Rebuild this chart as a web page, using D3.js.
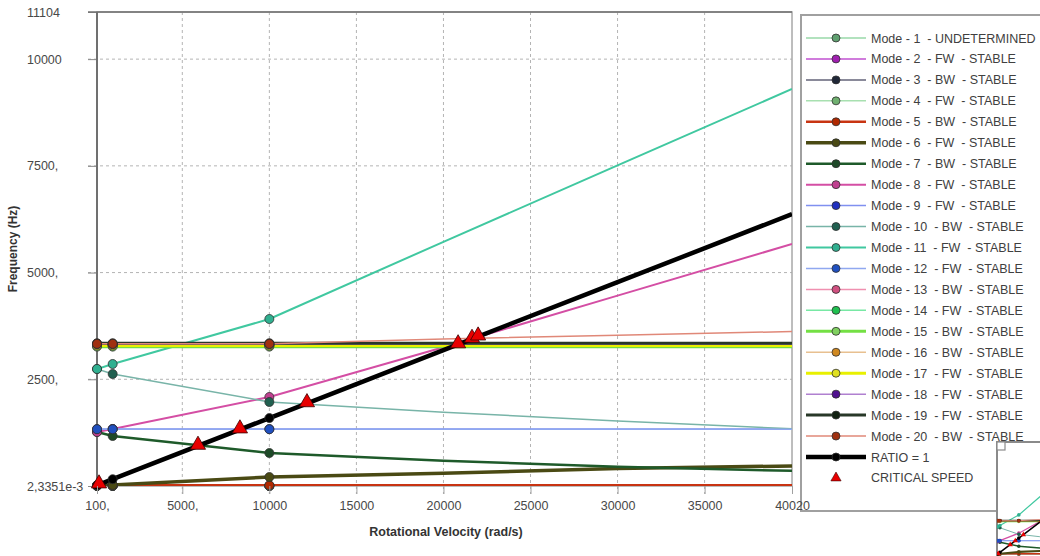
<!DOCTYPE html>
<html>
<head>
<meta charset="utf-8">
<script src="https://cdn.jsdelivr.net/npm/d3@7"></script>
<style>
  body { margin: 0; background: #fff; }
  text { font-family: "Liberation Sans", Arial, sans-serif; }
</style>
</head>
<body>
<div id="chart"></div>
<script>
// Campbell diagram data

// rotational speeds (rad/s) where each mode is sampled
var speeds = [100, 1000, 10000, 20000, 30000, 40020];
// markers are shown for the first samples only
var markedCount = 3;

var modeNames = [
  "Mode - 1  - UNDETERMINED",
  "Mode - 2  - FW  - STABLE",
  "Mode - 3  - BW  - STABLE",
  "Mode - 4  - FW  - STABLE",
  "Mode - 5  - BW  - STABLE",
  "Mode - 6  - FW  - STABLE",
  "Mode - 7  - BW  - STABLE",
  "Mode - 8  - FW  - STABLE",
  "Mode - 9  - FW  - STABLE",
  "Mode - 10  - BW  - STABLE",
  "Mode - 11  - FW  - STABLE",
  "Mode - 12  - FW  - STABLE",
  "Mode - 13  - BW  - STABLE",
  "Mode - 14  - FW  - STABLE",
  "Mode - 15  - BW  - STABLE",
  "Mode - 16  - BW  - STABLE",
  "Mode - 17  - FW  - STABLE",
  "Mode - 18  - FW  - STABLE",
  "Mode - 19  - FW  - STABLE",
  "Mode - 20  - BW  - STABLE"
];

// frequencies (Hz) per mode, one value per speed
var mode1Hz  = [1, 1, 1, 1, 1, 1];
var mode2Hz  = [2, 2, 2, 2, 2, 2];
var mode3Hz  = [3, 3, 3, 3, 3, 3];
var mode4Hz  = [4, 4, 4, 4, 4, 4];
var mode5Hz  = [20, 20, 20, 20, 20, 20];
var mode6Hz  = [5, 25, 210, 300, 410, 470];
var mode7Hz  = [1265, 1171, 773, 590, 450, 355];
var mode8Hz  = [1265, 1335, 2085, 3250, 4460, 5669];
var mode9Hz  = [1335, 1335, 1335, 1335, 1335, 1335];
var mode10Hz = [2741, 2624, 1968, 1730, 1520, 1340];
var mode11Hz = [2741, 2858, 3912, 5720, 7510, 9300];
var mode12Hz = [1330, 1330, 1330, 1330, 1330, 1330];
var mode13Hz = [3318, 3318, 3318, 3318, 3318, 3318];
var mode14Hz = [3305, 3305, 3305, 3305, 3305, 3305];
var mode15Hz = [3265, 3265, 3265, 3265, 3265, 3265];
var mode16Hz = [3325, 3325, 3325, 3325, 3325, 3325];
var mode17Hz = [3290, 3290, 3290, 3290, 3290, 3290];
var mode18Hz = [3320, 3320, 3320, 3320, 3320, 3320];
var mode19Hz = [3345, 3345, 3345, 3345, 3345, 3345];
var mode20Hz = [3330, 3330, 3330, 3445, 3530, 3620];

var modeHz = [mode1Hz, mode2Hz, mode3Hz, mode4Hz, mode5Hz, mode6Hz, mode7Hz,
  mode8Hz, mode9Hz, mode10Hz, mode11Hz, mode12Hz, mode13Hz, mode14Hz,
  mode15Hz, mode16Hz, mode17Hz, mode18Hz, mode19Hz, mode20Hz];

// ratio = 1 line (Hz)
var ratioHz = [15.9, 159.2, 1591.5, 3183.1, 4774.6, 6369.4];

// critical speeds
var criticalSpeed = [215, 5900, 8310, 12160, 20840, 21640, 21990];
var criticalHz = [34, 939, 1323, 1936, 3316, 3444, 3499];

// ticks
var xTickValues = [100, 5000, 10000, 15000, 20000, 25000, 30000, 35000, 40020];
var xTickLabels = ["100,", "5000,", "10000", "15000", "20000", "25000", "30000", "35000", "40020"];
var yTickValues = [0.0023351, 2500, 5000, 7500, 10000, 11104];
var yTickLabels = ["2,3351e-3", "2500,", "5000,", "7500,", "10000", "11104"];

// styles
var lineColors = ["#98d8a8", "#c050d0", "#8a8a9a", "#a8e0b0", "#c83412", "#4a4a14",
  "#1e5a2a", "#d44ea4", "#8090f0", "#78b4a8", "#40c8a0", "#90a8f0", "#f090b0",
  "#78e8a4", "#74e044", "#e8c090", "#e8f000", "#b080d0", "#283828", "#e08878"];
var dotColors = ["#60a070", "#a020b0", "#202838", "#70b070", "#b02800", "#4a4a14",
  "#1e4a28", "#c04090", "#2030c0", "#206050", "#30b090", "#2050c0", "#d05080",
  "#20c050", "#80d060", "#d08820", "#e0e020", "#501090", "#102010", "#a03010"];
var lineWidths = [1.5, 1.5, 2, 1.5, 2.5, 3.5, 2.5, 2, 1.5, 1.5, 2, 1.5, 1.5,
  1.5, 3, 1.5, 3, 1.5, 3, 1.5];

var svgWidth = 1040;
var svgHeight = 556;
var margin = { top: 12, left: 97 };
var chartWidth = 695;
var chartHeight = 474;

var svg = d3.select("#chart")
  .append("svg")
  .attr("width", svgWidth)
  .attr("height", svgHeight);

svg.append("defs").append("clipPath").attr("id", "plotClip")
  .append("rect").attr("width", chartWidth).attr("height", chartHeight);

var chartGroup = svg.append("g")
  .attr("transform", `translate(${margin.left}, ${margin.top})`);

var xScale = d3.scaleLinear().domain([100, 40020]).range([0, chartWidth]);
var yScale = d3.scaleLinear().domain([0.0023351, 11104]).range([chartHeight, 0]);

// grid
chartGroup.append("g")
  .selectAll("line")
  .data(xTickValues.slice(1, -1))
  .enter()
  .append("line")
  .attr("x1", d => xScale(d)).attr("x2", d => xScale(d))
  .attr("y1", 0).attr("y2", chartHeight + 8)
  .attr("stroke", "#b4b4b4").attr("stroke-dasharray", "3,3");

chartGroup.append("g")
  .selectAll("line")
  .data(yTickValues.slice(1, -1))
  .enter()
  .append("line")
  .attr("x1", -9).attr("x2", chartWidth)
  .attr("y1", d => yScale(d)).attr("y2", d => yScale(d))
  .attr("stroke", "#b4b4b4").attr("stroke-dasharray", "3,3");

// axes
var bottomAxis = d3.axisBottom(xScale)
  .tickValues(xTickValues)
  .tickFormat((d, i) => xTickLabels[i])
  .tickSize(8).tickSizeOuter(0).tickPadding(7);
var leftAxis = d3.axisLeft(yScale)
  .tickValues(yTickValues)
  .tickFormat((d, i) => yTickLabels[i])
  .tickSize(9).tickSizeOuter(0);

var xAxisG = chartGroup.append("g")
  .attr("transform", `translate(0, ${chartHeight})`)
  .call(bottomAxis);
var yAxisG = chartGroup.append("g").call(leftAxis);

[xAxisG, yAxisG].forEach(function(g) {
  g.select(".domain").remove();
  g.selectAll(".tick line").attr("stroke", "#a0a0a0");
  g.selectAll(".tick text")
    .attr("fill", "#484848")
    .style("font-size", "12.5px")
    .style("font-family", "Liberation Sans, Arial, sans-serif");
});
yAxisG.selectAll(".tick text")
  .attr("text-anchor", "start")
  .attr("x", 27 - margin.left);
// top tick extends the frame
yAxisG.selectAll(".tick line").attr("stroke", "#8a8a8a");

// frame
chartGroup.append("rect")
  .attr("width", chartWidth).attr("height", chartHeight)
  .attr("fill", "none").attr("stroke", "#a8a8a8").attr("stroke-width", 1.5);
chartGroup.append("line")
  .attr("x1", 0).attr("x2", 0).attr("y1", 0).attr("y2", chartHeight)
  .attr("stroke", "#707070").attr("stroke-width", 2);
chartGroup.append("line")
  .attr("x1", -9).attr("x2", chartWidth).attr("y1", 0).attr("y2", 0)
  .attr("stroke", "#707070").attr("stroke-width", 1.5);

// series
var series = modeNames.map(function(name, i) {
  return { name: name, values: modeHz[i], color: lineColors[i], dot: dotColors[i], width: lineWidths[i] };
});

var line = d3.line()
  .x((d, i) => xScale(speeds[i]))
  .y(d => yScale(d));

var plotG = chartGroup.append("g").attr("clip-path", "url(#plotClip)");

plotG.selectAll(".mode")
  .data(series)
  .enter()
  .append("path")
  .attr("class", "mode")
  .attr("d", d => line(d.values))
  .attr("fill", "none")
  .attr("stroke", d => d.color)
  .attr("stroke-width", d => d.width);

plotG.append("path")
  .attr("d", line(ratioHz))
  .attr("fill", "none")
  .attr("stroke", "#000")
  .attr("stroke-width", 4.5);

// markers
var dotData = [];
series.forEach(function(s) {
  s.values.slice(0, markedCount).forEach(function(v, i) {
    dotData.push({ x: speeds[i], y: v, fill: s.dot });
  });
});
ratioHz.slice(0, markedCount).forEach(function(v, i) {
  dotData.push({ x: speeds[i], y: v, fill: "#000" });
});

chartGroup.append("g")
  .selectAll("circle")
  .data(dotData)
  .enter()
  .append("circle")
  .attr("cx", d => xScale(d.x))
  .attr("cy", d => yScale(d.y))
  .attr("r", 4.5)
  .attr("fill", d => d.fill)
  .attr("stroke", "#303030")
  .attr("stroke-width", 0.8);

var triangle = d3.symbol().type(d3.symbolTriangle).size(100);
chartGroup.append("g")
  .selectAll("path")
  .data(criticalSpeed)
  .enter()
  .append("path")
  .attr("d", triangle)
  .attr("transform", (d, i) => `translate(${xScale(d)}, ${yScale(criticalHz[i]) - 1})`)
  .attr("fill", "#e80000")
  .attr("stroke", "#3a0000")
  .attr("stroke-width", 0.8);

// axis titles
svg.append("text")
  .attr("transform", "translate(17, 249) rotate(-90)")
  .attr("text-anchor", "middle")
  .style("font-size", "12px")
  .style("font-weight", "bold")
  .attr("fill", "#333")
  .text("Frequency (Hz)");

svg.append("text")
  .attr("x", 446).attr("y", 536)
  .attr("text-anchor", "middle")
  .style("font-size", "12.5px")
  .style("font-weight", "bold")
  .attr("fill", "#333")
  .text("Rotational Velocity (rad/s)");

// legend
var legendG = svg.append("g");
legendG.append("rect")
  .attr("x", 801).attr("y", 15).attr("width", 260).attr("height", 496)
  .attr("fill", "#fff").attr("stroke", "#a0a0a0").attr("stroke-width", 2);

var legendItems = series.concat([{ name: "RATIO = 1", color: "#000", dot: "#000", width: 4.5 }]);
var legendStep = 20.95;

var legendRows = legendG.selectAll(".legend-row")
  .data(legendItems)
  .enter()
  .append("g")
  .attr("class", "legend-row")
  .attr("transform", (d, i) => `translate(0, ${38 + i * legendStep})`);

legendRows.append("line")
  .attr("x1", 806).attr("x2", 866)
  .attr("stroke", d => d.color)
  .attr("stroke-width", d => d.width);
legendRows.append("circle")
  .attr("cx", 836).attr("r", 4)
  .attr("fill", d => d.dot)
  .attr("stroke", "#303030").attr("stroke-width", 0.8);
legendRows.append("text")
  .attr("x", 871).attr("dy", "0.36em")
  .style("font-size", "12.5px")
  .style("white-space", "pre")
  .attr("fill", "#404040")
  .text(d => d.name);

var critRow = legendG.append("g")
  .attr("transform", `translate(0, ${38 + legendItems.length * legendStep})`);
critRow.append("path")
  .attr("d", d3.symbol().type(d3.symbolTriangle).size(45))
  .attr("transform", "translate(836, 0)")
  .attr("fill", "#e80000").attr("stroke", "#3a0000").attr("stroke-width", 0.6);
critRow.append("text")
  .attr("x", 871).attr("dy", "0.36em")
  .style("font-size", "12.5px")
  .attr("fill", "#404040")
  .text("CRITICAL SPEED");

// last x label sits on top of the legend border
xAxisG.raise();
chartGroup.raise();

// overview inset (bottom right)
var insetG = svg.append("g");
svg.select("defs").append("clipPath").attr("id", "insetClip")
  .append("rect").attr("x", 997).attr("y", 442).attr("width", 60).attr("height", 120);
insetG.append("rect")
  .attr("x", 997).attr("y", 442).attr("width", 60).attr("height", 120)
  .attr("fill", "#fff").attr("stroke", "#8a8a8a").attr("stroke-width", 2);

var miniX = d3.scaleLinear().domain([100, 40020]).range([998, 1082]);
var miniY = d3.scaleLinear().domain([0.0023351, 11104]).range([554, 443]);
var miniLine = d3.line().x((d, i) => miniX(speeds[i])).y(d => miniY(d));
var miniG = insetG.append("g").attr("clip-path", "url(#insetClip)");

miniG.selectAll(".mini")
  .data(series)
  .enter()
  .append("path")
  .attr("d", d => miniLine(d.values))
  .attr("fill", "none")
  .attr("stroke", d => d.color)
  .attr("stroke-width", d => Math.max(1, d.width * 0.6));
miniG.append("path")
  .attr("d", miniLine(ratioHz))
  .attr("fill", "none").attr("stroke", "#000").attr("stroke-width", 1.5);
miniG.selectAll(".mini-dot")
  .data(dotData)
  .enter()
  .append("circle")
  .attr("cx", d => miniX(d.x)).attr("cy", d => miniY(d.y))
  .attr("r", 1.8).attr("fill", d => d.fill);
miniG.selectAll(".mini-crit")
  .data(criticalSpeed)
  .enter()
  .append("path")
  .attr("d", d3.symbol().type(d3.symbolTriangle).size(12))
  .attr("transform", (d, i) => `translate(${miniX(d)}, ${miniY(criticalHz[i])})`)
  .attr("fill", "#e80000");

insetG.append("rect")
  .attr("x", 997).attr("y", 442).attr("width", 8).attr("height", 8)
  .attr("fill", "#fff").attr("stroke", "#8a8a8a").attr("stroke-width", 1.2);
</script>
</body>
</html>
